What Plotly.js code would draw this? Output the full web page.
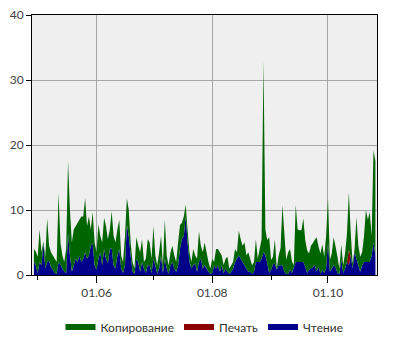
<!DOCTYPE html>
<html>
<head>
<meta charset="utf-8">
<script src="https://cdn.plot.ly/plotly-3.0.1.min.js"></script>
<style>html,body{margin:0;padding:0;background:#fff;}#chart{width:400px;height:350px;}</style>
</head>
<body>
<div id="chart"></div>
<script>
// Daily data, first day and count
const startDate = '2015-04-29';
const seriesNames = ['Копирование', 'Печать', 'Чтение'];

const reading = [
2,1.5,0.3,2,1.5,4.9,1,2,2.2,1.2,0.8,0.3,0.2,2,1.6,1,0.5,0.3,6.4,3,
0.5,1.5,2.5,2,3,2,2.5,3.5,2.5,3,4.5,4.9,1.5,0.8,2.5,3.5,1.5,4,2.5,1.8,
4,4.1,1.5,1,3,4,1,0.3,1.5,7.8,6,3,0.5,0.2,2.5,2,0.5,2,1,0.3,
1.5,1.5,0.3,2.5,1.5,0.2,1,3,0.3,2.5,1,0.2,1.5,2,1,0.5,1.5,4,5.5,6,
9,5,2,1,1.5,1.8,0.5,2,2.5,1,1.5,1,0.5,0.2,0.3,1.5,1,1.5,0.5,1.5,
0.3,1,0.5,0.2,0.5,1,2,2.5,3,2.5,2,1.5,1,0.5,0.5,0.2,0.5,2,2,2,
2.5,3.5,3,1.8,0.3,0.8,1.6,1.8,0.8,1.5,1.5,1.5,0.5,0.1,0.2,0.8,0.3,1.2,2,2,
2,2,2,1.3,0.3,0.8,1,1.2,1.5,0.5,1.3,0.2,0.8,0.3,1,5,0.5,1,1.5,1.2,
0.3,0.1,2.5,0.3,1,2,1.5,3,1,3.5,2.5,1.5,0.5,1.5,2,2,2,2,3,5,
3
];

const printing = [
0,0,0,0,0,0,0,0,0,0,0,0,0,0,0,0,0,0,0,0,
0,0,0,0,0,0,0,0,0,0,0,0,0,0,0,0,0,0,0,0,
0,0,0,0,0,0,0,0,0,0,0,0,0,0,0,0,0,0,0,0,
0,0,0,0,0,0,0,0,0,0,0,0,0,0,0,0,0,0,0,0,
0,0,0,0,0,0,0,0,0,0,0,0,0,0,0,0,0,0,0,0,
0,0,0,0,0,0,0,0,0,0,0,0,0,0,0,0,0,0,0,0,
0,0,0,0,0,0,0,0,0,0,0,0,0,0,0,0,0,0,0,0,
0,0,0,0,0,0,0,0,0,0,0,0,0,0,0,0,0,0,0,0,
0,0,0,0,0,0,2.3,0,0,0,0,0,0,0,0,0,0,0,0,0,
0
];

const copying = [
2,2.1,2.5,5,2,0.3,1.8,6.7,2.3,2.3,2.2,2.2,1.8,10.6,3.4,2,1.5,3.7,11.1,7,
4.5,5.5,5,6,5.5,7,6.5,8.3,5,6,2.5,4.8,3.5,2.7,5.3,2.5,3.5,4.8,5,3.7,
3,5.7,4.5,4,4,4.5,2,1.7,4.5,4,4,2,1.5,0.8,3.3,2.5,3,3.5,1,2.2,
4,3.5,2.2,5,1.5,1.3,2.5,3,1.2,6,2,1.3,2,2.5,2,1.5,3.5,3.7,2.5,3,
1.8,2,1.5,1,2.5,1.2,2,4.7,2,2.5,3.5,2.5,1.5,0.8,2.2,0.5,3,2.5,3,1.5,
1.2,1.5,2.3,0.8,1,1,2,1,3.8,3,2.5,3.5,2,3,2,1.3,1.5,3.5,0.5,2,
3,29.5,4,3.6,5.5,1.5,1.2,3.7,0.2,1.5,2.6,9.3,5.9,2.2,3.3,3.2,1.8,0.3,8.8,5,
4.9,4.9,6.7,4.1,3.5,2.5,3.5,3.7,3.9,5.3,3.1,3.1,3.9,2.5,4.9,6.8,1.8,2.3,4.3,3.2,
2.5,0.9,2.2,1.2,2.3,4.4,8.9,3.4,0.8,0.5,6.4,3,2.3,2,4,8,6.5,7.7,3,14.2,
14.5
];

const yTickValues = [0, 10, 20, 30, 40];
const xTickValues = ['2015-06-01', '2015-08-01', '2015-10-01'];
const xTickLabels = ['01.06', '01.08', '01.10'];

// build day list
const dates = [];
const d0 = new Date(startDate + 'T00:00:00Z');
for (let i = 0; i < reading.length; i++) {
  const d = new Date(d0.getTime() + i * 86400000);
  dates.push(d.toISOString().slice(0, 10));
}

const colors = {copy: '#006400', print: '#8b0000', read: '#00008b'};

const traces = [
  {x: dates, y: reading, name: seriesNames[2], type: 'scatter', mode: 'none',
   stackgroup: 'one', fillcolor: colors.read, line: {color: colors.read, width: 0}},
  {x: dates, y: printing, name: seriesNames[1], type: 'scatter', mode: 'none',
   stackgroup: 'one', fillcolor: colors.print, line: {color: colors.print, width: 0}},
  {x: dates, y: copying, name: seriesNames[0], type: 'scatter', mode: 'none',
   stackgroup: 'one', fillcolor: colors.copy, line: {color: colors.copy, width: 0}}
];

const layout = {
  width: 400, height: 350,
  margin: {l: 32, r: 23, t: 15, b: 75, autoexpand: false},
  paper_bgcolor: '#ffffff',
  plot_bgcolor: '#efefef',
  font: {family: 'Lato, sans-serif', size: 12, color: '#404040'},
  showlegend: true,
  legend: {orientation: 'h', x: 0.5, xanchor: 'center', y: -0.2, yanchor: 'middle',
           traceorder: 'reversed', itemwidth: 30, font: {size: 12, color: '#333333'}},
  xaxis: {
    type: 'date',
    range: ['2015-04-28', '2015-10-26 20:00'],
    tickvals: xTickValues, ticktext: xTickLabels,
    ticks: 'outside', ticklen: 7, tickcolor: '#000000',
    showgrid: true, gridcolor: '#a6a6a6', gridwidth: 1,
    minor: {tickvals: ['2015-05-01', '2015-07-01', '2015-09-01'], ticks: 'outside', ticklen: 4, tickcolor: '#000000', showgrid: false},
    showline: true, linecolor: '#000000', linewidth: 1, mirror: true,
    zeroline: false, fixedrange: true
  },
  yaxis: {
    range: [0, 40], tickvals: yTickValues,
    ticks: 'outside', ticklen: 5, tickcolor: '#000000',
    showgrid: true, gridcolor: '#a6a6a6', gridwidth: 1,
    showline: true, linecolor: '#000000', linewidth: 1, mirror: true,
    zeroline: false, fixedrange: true
  }
};

Plotly.newPlot('chart', traces, layout, {displayModeBar: false, staticPlot: true});
</script>
</body>
</html>
